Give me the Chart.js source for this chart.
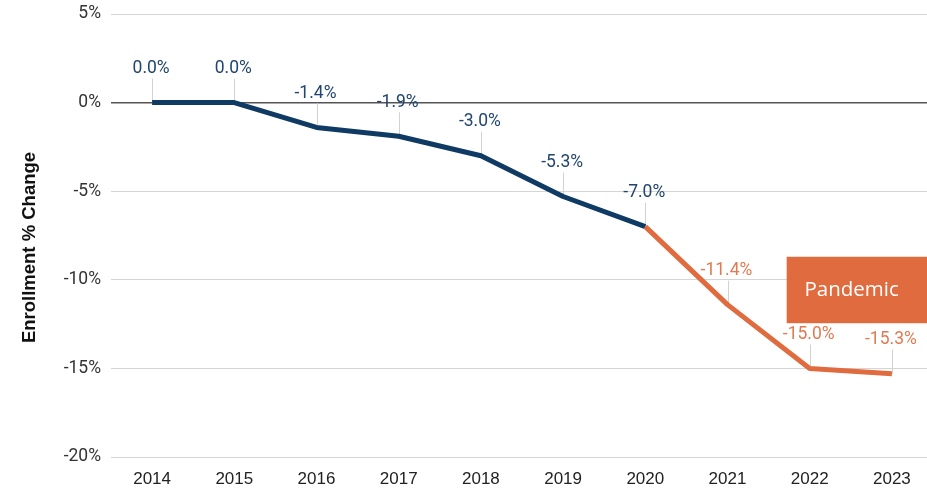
<!DOCTYPE html>
<html>
<head>
<meta charset="utf-8">
<script src="https://cdn.jsdelivr.net/npm/chart.js@4.4.1/dist/chart.umd.min.js"></script>
<style>
  html, body { margin: 0; padding: 0; background: #fff; overflow: hidden; }
  canvas { display: block; }
</style>
</head>
<body>
<canvas id="enrollChart" width="934" height="488"></canvas>
<script>
const years = ['2014', '2015', '2016', '2017', '2018', '2019', '2020', '2021', '2022', '2023'];
const pctChange = [0.0, 0.0, -1.4, -1.9, -3.0, -5.3, -7.0, -11.4, -15.0, -15.3];
const yTickValues = [5, 0, -5, -10, -15, -20];
const pandemicStart = 6; // index where the pandemic segment begins

const NAVY = '#0e3a63';
const ORANGE = '#df6b3e';
const NAVY_TEXT = '#21456f';
const ORANGE_TEXT = '#e07a50';

// leader lines + value labels above each point
const pointLabels = {
    id: 'pointLabels',
    beforeDatasetsDraw(chart) {
        const { ctx } = chart;
        const meta = chart.getDatasetMeta(0);
        ctx.save();
        ctx.strokeStyle = '#d2d2d2';
        ctx.lineWidth = 1;
        meta.data.forEach(pt => {
            ctx.beginPath();
            ctx.moveTo(Math.round(pt.x) + 0.5, pt.y - 24);
            ctx.lineTo(Math.round(pt.x) + 0.5, pt.y);
            ctx.stroke();
        });
        ctx.restore();
    },
    afterDatasetsDraw(chart) {
        const { ctx } = chart;
        const meta = chart.getDatasetMeta(0);
        ctx.save();
        ctx.font = '17.5px Roboto';
        ctx.textAlign = 'center';
        ctx.textBaseline = 'middle';
        meta.data.forEach((pt, i) => {
            ctx.fillStyle = i > pandemicStart ? ORANGE_TEXT : NAVY_TEXT;
            ctx.fillText(pctChange[i].toFixed(1) + '%', pt.x - 1, pt.y - 34);
        });
        ctx.restore();
    }
};

// "Pandemic" call-out box, placed in data units
const pandemicBox = { fromIndex: 7.72, top: -8.7, bottom: -12.45, text: 'Pandemic' };
const pandemicLabel = {
    id: 'pandemicLabel',
    afterDatasetsDraw(chart) {
        const { ctx, chartArea } = chart;
        const x = chart.scales.x, y = chart.scales.y;
        const left = x.getPixelForValue(pandemicBox.fromIndex);
        const top = y.getPixelForValue(pandemicBox.top);
        const bottom = y.getPixelForValue(pandemicBox.bottom);
        const right = chartArea.right;
        ctx.save();
        ctx.fillStyle = ORANGE;
        ctx.fillRect(left, top, right - left, bottom - top);
        ctx.fillStyle = '#fff';
        ctx.font = '20.5px "Open Sans"';
        ctx.textAlign = 'center';
        ctx.textBaseline = 'middle';
        ctx.fillText(pandemicBox.text, left + 65, (top + bottom) / 2);
        ctx.restore();
    }
};

// y axis title, a bit below the axis middle like the original
const yTitle = {
    id: 'yTitle',
    afterDraw(chart) {
        const { ctx, chartArea } = chart;
        ctx.save();
        ctx.translate(30, (chartArea.top + chartArea.bottom) / 2 + 12);
        ctx.rotate(-Math.PI / 2);
        ctx.font = 'bold 18.5px "Liberation Sans"';
        ctx.fillStyle = '#111';
        ctx.textAlign = 'center';
        ctx.textBaseline = 'middle';
        ctx.fillText('Enrollment % Change', 0, 0);
        ctx.restore();
    }
};

new Chart(document.getElementById('enrollChart'), {
    type: 'line',
    data: {
        labels: years,
        datasets: [{
            data: pctChange,
            borderWidth: 5,
            borderColor: NAVY,
            borderJoinStyle: 'round',
            pointRadius: 0,
            tension: 0,
            segment: {
                borderColor: c => c.p0DataIndex >= pandemicStart ? ORANGE : NAVY
            }
        }]
    },
    options: {
        responsive: false,
        animation: false,
        layout: { padding: { top: 14, right: 1, bottom: 0, left: 0 } },
        plugins: { legend: { display: false }, tooltip: { enabled: false } },
        scales: {
            x: {
                offset: true,
                grid: { display: false, drawTicks: false },
                border: { display: false },
                ticks: { color: '#222', font: { family: 'Liberation Sans', size: 17 }, padding: 12, maxRotation: 0 },
                afterFit: s => { s.height = 31; s.paddingLeft = 0; s.paddingRight = 0; }
            },
            y: {
                min: -20,
                max: 5,
                afterBuildTicks: s => { s.ticks = yTickValues.map(v => ({ value: v })); },
                grid: {
                    drawTicks: false,
                    color: c => c.tick && c.tick.value === 0 ? '#555' : '#d5d5d5',
                    lineWidth: c => c.tick && c.tick.value === 0 ? 1.5 : 1
                },
                border: { display: false },
                ticks: {
                    color: '#333',
                    font: { family: 'Roboto', size: 17.5 },
                    padding: 10,
                    callback: v => v + '%'
                },
                afterFit: s => { s.width = 111; s.paddingTop = 0; s.paddingBottom = 0; }
            }
        }
    },
    plugins: [pointLabels, pandemicLabel, yTitle]
});
</script>
</body>
</html>
